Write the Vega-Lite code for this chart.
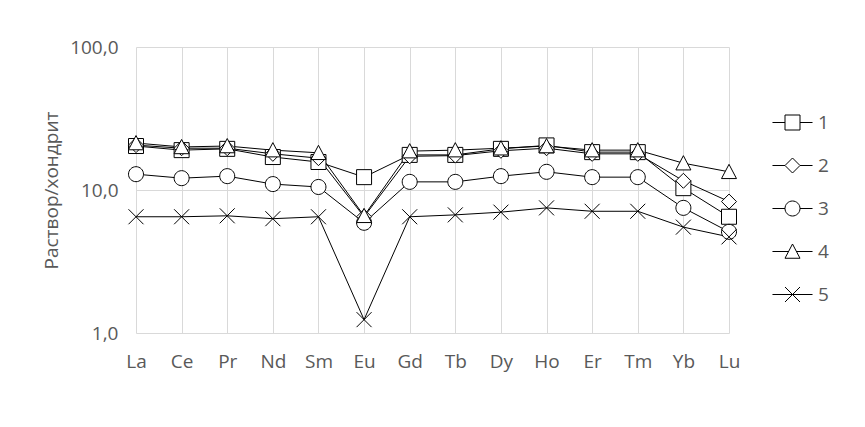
{
  "$schema": "https://vega.github.io/schema/vega-lite/v6.json",
  "width": 593,
  "height": 286,
  "autosize": "none",
  "padding": {"left": 136, "top": 47, "right": 136, "bottom": 94},
  "background": "white",
  "config": {
    "view": {"stroke": null},
    "font": "Open Sans"
  },
  "data": {
    "values": [
      {"el": "La", "series": "1", "v": 20.3}, {"el": "Ce", "series": "1", "v": 19.0}, {"el": "Pr", "series": "1", "v": 19.4}, {"el": "Nd", "series": "1", "v": 17.0}, {"el": "Sm", "series": "1", "v": 15.7}, {"el": "Eu", "series": "1", "v": 12.3}, {"el": "Gd", "series": "1", "v": 17.6}, {"el": "Tb", "series": "1", "v": 17.6}, {"el": "Dy", "series": "1", "v": 19.4}, {"el": "Ho", "series": "1", "v": 20.5}, {"el": "Er", "series": "1", "v": 18.4}, {"el": "Tm", "series": "1", "v": 18.4}, {"el": "Yb", "series": "1", "v": 10.3}, {"el": "Lu", "series": "1", "v": 6.5},
      {"el": "La", "series": "2", "v": 20.6}, {"el": "Ce", "series": "2", "v": 19.6}, {"el": "Pr", "series": "2", "v": 19.6}, {"el": "Nd", "series": "2", "v": 17.9}, {"el": "Sm", "series": "2", "v": 16.7}, {"el": "Eu", "series": "2", "v": 6.5}, {"el": "Gd", "series": "2", "v": 17.2}, {"el": "Tb", "series": "2", "v": 17.4}, {"el": "Dy", "series": "2", "v": 18.8}, {"el": "Ho", "series": "2", "v": 19.6}, {"el": "Er", "series": "2", "v": 17.9}, {"el": "Tm", "series": "2", "v": 17.9}, {"el": "Yb", "series": "2", "v": 11.6}, {"el": "Lu", "series": "2", "v": 8.3},
      {"el": "La", "series": "3", "v": 12.9}, {"el": "Ce", "series": "3", "v": 12.1}, {"el": "Pr", "series": "3", "v": 12.5}, {"el": "Nd", "series": "3", "v": 11.0}, {"el": "Sm", "series": "3", "v": 10.5}, {"el": "Eu", "series": "3", "v": 5.9}, {"el": "Gd", "series": "3", "v": 11.4}, {"el": "Tb", "series": "3", "v": 11.4}, {"el": "Dy", "series": "3", "v": 12.5}, {"el": "Ho", "series": "3", "v": 13.4}, {"el": "Er", "series": "3", "v": 12.3}, {"el": "Tm", "series": "3", "v": 12.3}, {"el": "Yb", "series": "3", "v": 7.5}, {"el": "Lu", "series": "3", "v": 5.1},
      {"el": "La", "series": "4", "v": 21.3}, {"el": "Ce", "series": "4", "v": 20.0}, {"el": "Pr", "series": "4", "v": 20.3}, {"el": "Nd", "series": "4", "v": 19.0}, {"el": "Sm", "series": "4", "v": 18.2}, {"el": "Eu", "series": "4", "v": 6.6}, {"el": "Gd", "series": "4", "v": 18.7}, {"el": "Tb", "series": "4", "v": 19.0}, {"el": "Dy", "series": "4", "v": 19.6}, {"el": "Ho", "series": "4", "v": 20.3}, {"el": "Er", "series": "4", "v": 19.0}, {"el": "Tm", "series": "4", "v": 19.0}, {"el": "Yb", "series": "4", "v": 15.4}, {"el": "Lu", "series": "4", "v": 13.4},
      {"el": "La", "series": "5", "v": 6.5}, {"el": "Ce", "series": "5", "v": 6.5}, {"el": "Pr", "series": "5", "v": 6.6}, {"el": "Nd", "series": "5", "v": 6.3}, {"el": "Sm", "series": "5", "v": 6.5}, {"el": "Eu", "series": "5", "v": 1.24}, {"el": "Gd", "series": "5", "v": 6.5}, {"el": "Tb", "series": "5", "v": 6.7}, {"el": "Dy", "series": "5", "v": 7.0}, {"el": "Ho", "series": "5", "v": 7.5}, {"el": "Er", "series": "5", "v": 7.1}, {"el": "Tm", "series": "5", "v": 7.1}, {"el": "Yb", "series": "5", "v": 5.5}, {"el": "Lu", "series": "5", "v": 4.7}
    ]
  },
  "encoding": {
    "x": {
      "field": "el",
      "type": "nominal",
      "sort": null,
      "scale": {"type": "point", "padding": 0},
      "axis": {
        "title": null,
        "labelAngle": 0,
        "domain": false,
        "ticks": false,
        "grid": true,
        "gridColor": "#d9d9d9",
        "gridWidth": 1,
        "labelFontSize": 19,
        "labelColor": "#595959",
        "labelPadding": 19
      }
    },
    "y": {
      "field": "v",
      "type": "quantitative",
      "scale": {"type": "log", "domain": [1, 100], "nice": false},
      "axis": {
        "title": "Раствор/хондрит",
        "titleFontSize": 19,
        "titleFontWeight": "normal",
        "titleColor": "#595959",
        "titlePadding": 8,
        "values": [1, 10, 100],
        "labelExpr": "replace(format(datum.value, '.1f'), '.', ',')",
        "domain": false,
        "ticks": false,
        "tickSize": 0,
        "labelPadding": 18,
        "labelFontSize": 19,
        "labelColor": "#595959",
        "grid": true,
        "gridColor": "#d9d9d9",
        "gridWidth": 1
      }
    }
  },
  "layer": [
    {
      "mark": {"type": "line", "color": "black", "strokeWidth": 1},
      "encoding": {"detail": {"field": "series", "type": "nominal"}}
    },
    {
      "transform": [{"filter": "datum.series == '1'"}],
      "mark": {"type": "point", "shape": "M-1,-1H1V1H-1Z", "filled": true, "fill": "white", "stroke": "black", "strokeWidth": 1, "opacity": 1, "size": 225}
    },
    {
      "transform": [{"filter": "datum.series == '2'"}],
      "mark": {"type": "point", "shape": "M0,-1L1,0L0,1L-1,0Z", "filled": true, "fill": "white", "stroke": "black", "strokeWidth": 1, "opacity": 1, "size": 225}
    },
    {
      "transform": [{"filter": "datum.series == '3'"}],
      "mark": {"type": "point", "shape": "M-1,0A1,1,0,1,0,1,0A1,1,0,1,0,-1,0Z", "filled": true, "fill": "white", "stroke": "black", "strokeWidth": 1, "opacity": 1, "size": 225}
    },
    {
      "transform": [{"filter": "datum.series == '4'"}],
      "mark": {"type": "point", "shape": "M0,-1L1,0.9H-1Z", "filled": true, "fill": "white", "stroke": "black", "strokeWidth": 1, "opacity": 1, "size": 225}
    },
    {
      "transform": [{"filter": "datum.series == '5'"}],
      "mark": {"type": "point", "shape": "M-1,-1L1,1M-1,1L1,-1", "filled": true, "fill": "white", "stroke": "black", "strokeWidth": 1, "opacity": 1, "size": 225}
    },
    {
      "transform": [{"filter": "datum.series == 'none'"}],
      "mark": {"type": "point", "color": "black", "strokeWidth": 1, "opacity": 1, "size": 225},
      "encoding": {
        "shape": {
          "field": "series",
          "type": "nominal",
          "scale": {
            "domain": ["1", "2", "3", "4", "5"],
            "range": [
              "M-2.67,0H-1M1,0H2.67M-1,-1H1V1H-1Z",
              "M-2.67,0H-1M1,0H2.67M0,-1L1,0L0,1L-1,0Z",
              "M-2.67,0H-1M1,0H2.67M-1,0A1,1,0,1,0,1,0A1,1,0,1,0,-1,0Z",
              "M-2.67,0H-0.5M0.5,0H2.67M0,-1L1,0.9H-1Z",
              "M-2.67,0H2.67M-1,-1L1,1M-1,1L1,-1"
            ]
          },
          "legend": {
            "title": null,
            "orient": "none",
            "legendX": 647,
            "legendY": 66,
            "padding": 0,
            "symbolSize": 225,
            "symbolStrokeColor": "black",
            "symbolStrokeWidth": 1,
            "symbolOpacity": 1,
            "labelFontSize": 19,
            "labelColor": "#595959",
            "labelOffset": 16,
            "rowPadding": 23
          }
        }
      }
    }
  ]
}
